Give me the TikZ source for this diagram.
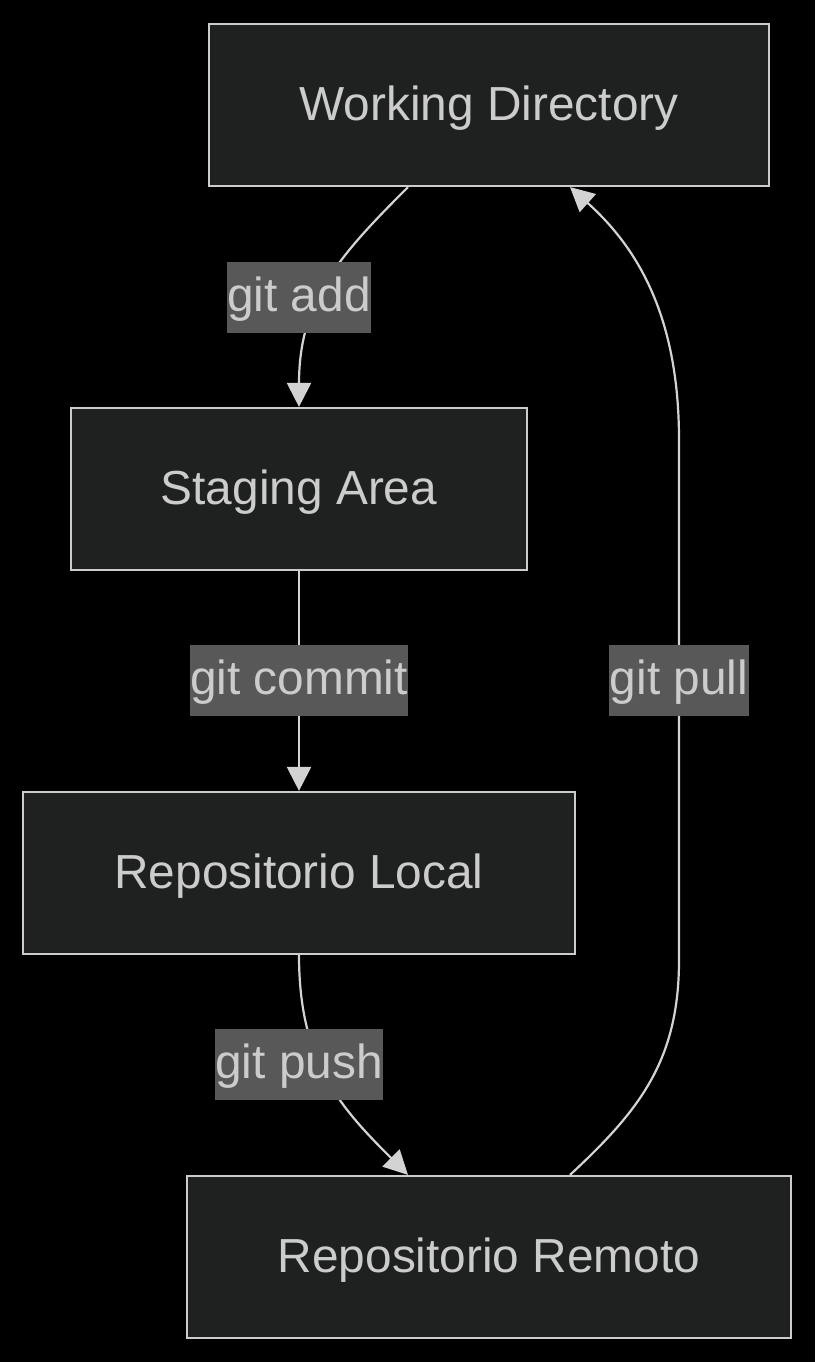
\documentclass[tikz,border=0pt]{standalone}
\usepackage{fontspec}
\setmainfont{Liberation Sans}
\usetikzlibrary{arrows.meta}
\definecolor{bgc}{HTML}{000000}
\definecolor{nodefill}{HTML}{1F2020}
\definecolor{nodeline}{HTML}{CCCCCC}
\definecolor{txt}{HTML}{CCCCCC}
\definecolor{edgec}{HTML}{D3D3D3}
\definecolor{lblfill}{HTML}{585858}
\begin{document}
\begin{tikzpicture}[x=1pt,y=-1pt,
  box/.style={draw=nodeline, fill=nodefill, line width=2.2pt, text=txt,
    font=\fontsize{47.8}{57}\selectfont, inner sep=0pt, anchor=center,
    text height=40pt, text depth=9pt},
  elabel/.style={fill=lblfill, text=txt, font=\fontsize{47.8}{57}\selectfont,
    inner xsep=0.5pt, inner ysep=0pt, anchor=center,
    text height=49.7pt, text depth=21.3pt},
  conn/.style={draw=edgec, line width=2.2pt, -{Triangle[length=24pt,width=24pt]}}]
\fill[bgc] (0,0) rectangle (815,1362);
\useasboundingbox (0,0) rectangle (815,1362);

\node[box, minimum width=560pt, minimum height=162pt] (wd) at (489,105) {Working Directory};
\node[box, minimum width=456pt, minimum height=162pt] (sa) at (299,489) {Staging Area};
\node[box, minimum width=552pt, minimum height=162pt] (rl) at (299,873) {Repositorio Local};
\node[box, minimum width=604pt, minimum height=162pt] (rr) at (489,1257) {Repositorio Remoto};

\coordinate (wdA) at ([xshift=-81pt]wd.south);
\coordinate (wdB) at ([xshift=81pt]wd.south);
\coordinate (rrA) at ([xshift=-81pt]rr.north);
\coordinate (rrB) at ([xshift=81pt]rr.north);

\draw[conn] (wdA) .. controls (340,255) and (299,300) .. (sa.north);
\draw[conn] (sa.south) -- (rl.north);
\draw[conn] (rl.south) .. controls (299,1062) and (340,1107) .. (rrA);
\draw[conn] (rrB) .. controls (640,1110) and (679,1060) .. (679,960) -- (679,440) .. controls (679,320) and (640,250) .. (wdB);

\node[elabel] (l1) at (299,297) {git add};
\node[elabel] (l2) at (299,680.5) {git commit};
\node[elabel] (l3) at (299,1064.5) {git push};
\node[elabel] (l4) at (679,680.5) {git pull};
\end{tikzpicture}
\end{document}
